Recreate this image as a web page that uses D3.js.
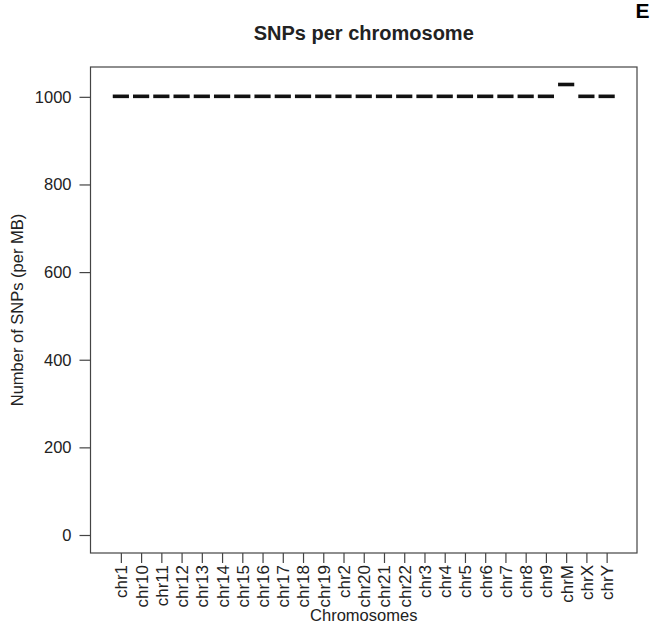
<!DOCTYPE html>
<html>
<head>
<meta charset="utf-8">
<script src="https://cdn.jsdelivr.net/npm/d3@7"></script>
<style>
  html, body { margin: 0; padding: 0; background: #fff; }
  svg { display: block; font-family: "Liberation Sans", Arial, Helvetica, sans-serif; }
</style>
</head>
<body>
<svg id="chart" width="651" height="639"></svg>
<script>
const chromosomes = ["chr1","chr10","chr11","chr12","chr13","chr14","chr15","chr16","chr17","chr18","chr19","chr2","chr20","chr21","chr22","chr3","chr4","chr5","chr6","chr7","chr8","chr9","chrM","chrX","chrY"];
const snpsPerMB = [1000,1000,1000,1000,1000,1000,1000,1000,1000,1000,1000,1000,1000,1000,1000,1000,1000,1000,1000,1000,1000,1000,1027,1000,1000];
const yTicks = [0, 200, 400, 600, 800, 1000];
const titleText = "SNPs per chromosome";
const xTitle = "Chromosomes";
const yTitle = "Number of SNPs (per MB)";
const panelLetter = "E";

const svg = d3.select("#chart");
const box = { left: 90.5, right: 637, top: 67, bottom: 553 };
const ink = "#222";
const lineCol = "#444";

// R-style axis extents (4% padding)
const n = chromosomes.length;
const xScale = d3.scaleLinear()
  .domain([0.5 - 0.04 * n, n + 0.5 + 0.04 * n])
  .range([box.left, box.right]);
const yMax = d3.max(snpsPerMB);
const yPad = 0.04 * yMax;
const yScale = d3.scaleLinear()
  .domain([0 - yPad, yMax + yPad])
  .range([box.bottom, box.top]);

// plot box
svg.append("rect")
  .attr("x", box.left).attr("y", box.top)
  .attr("width", box.right - box.left).attr("height", box.bottom - box.top)
  .attr("fill", "none").attr("stroke", lineCol).attr("stroke-width", 1.2);

// Y axis
const yAxis = d3.axisLeft(yScale).tickValues(yTicks).tickSize(11).tickPadding(8).tickFormat(d3.format("d"));
const gy = svg.append("g").attr("transform", `translate(${box.left},0)`).call(yAxis);
gy.select(".domain").remove();
gy.selectAll("line").attr("stroke", lineCol).attr("stroke-width", 1.2);
gy.selectAll("text").attr("fill", ink).attr("font-size", 16.5).attr("font-family", "Liberation Sans, Arial, sans-serif");

// X axis
const xAxis = d3.axisBottom(xScale).tickValues(d3.range(1, n + 1)).tickSize(10)
  .tickFormat(d => chromosomes[d - 1]);
const gx = svg.append("g").attr("transform", `translate(0,${box.bottom})`).call(xAxis);
gx.select(".domain").remove();
gx.selectAll("line").attr("stroke", lineCol).attr("stroke-width", 1.2);
gx.selectAll("text")
  .attr("fill", ink).attr("font-size", 17).attr("font-family", "Liberation Sans, Arial, sans-serif")
  .attr("transform", "rotate(-90)")
  .attr("text-anchor", "end")
  .attr("x", -12).attr("y", 0).attr("dy", "0.35em");

// median dashes (boxplots with zero spread)
const boxW = 0.8;
svg.append("g").selectAll("line")
  .data(snpsPerMB)
  .join("line")
  .attr("x1", (d, i) => xScale(i + 1 - boxW / 2))
  .attr("x2", (d, i) => xScale(i + 1 + boxW / 2))
  .attr("y1", d => yScale(d) - 0.5)
  .attr("y2", d => yScale(d) - 0.5)
  .attr("stroke", "#111").attr("stroke-width", 3.6);

// Titles
svg.append("text")
  .attr("x", (box.left + box.right) / 2).attr("y", 40)
  .attr("text-anchor", "middle").attr("font-weight", "bold").attr("font-size", 20)
  .attr("fill", ink).text(titleText);

svg.append("text")
  .attr("x", (box.left + box.right) / 2).attr("y", 621)
  .attr("text-anchor", "middle").attr("font-size", 16.5)
  .attr("fill", ink).text(xTitle);

svg.append("text")
  .attr("transform", `translate(23,${(box.top + box.bottom) / 2}) rotate(-90)`)
  .attr("text-anchor", "middle").attr("font-size", 16.5)
  .attr("fill", ink).text(yTitle);

svg.append("text")
  .attr("x", 635.5).attr("y", 18)
  .attr("font-weight", "bold").attr("font-size", 21)
  .attr("fill", "#000").text(panelLetter);
</script>
</body>
</html>
